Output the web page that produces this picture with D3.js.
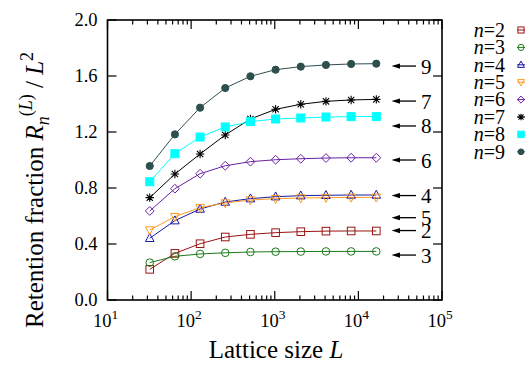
<!DOCTYPE html>
<html>
<head>
<meta charset="utf-8">
<script src="https://cdn.jsdelivr.net/npm/d3@7"></script>
<style>
  body { margin: 0; background: #fff; }
</style>
</head>
<body>
<svg id="chart" width="532" height="365" font-family="'Liberation Serif', 'Times New Roman', serif"></svg>
<script>
// lattice sizes L
const sizes = [32, 64, 128, 256, 512, 1024, 2048, 4096, 8192, 16384];

const r2 = [0.219, 0.333, 0.402, 0.450, 0.469, 0.481, 0.488, 0.492, 0.493, 0.493];
const r3 = [0.267, 0.312, 0.329, 0.337, 0.343, 0.345, 0.346, 0.347, 0.347, 0.347];
const r4 = [0.441, 0.567, 0.650, 0.700, 0.724, 0.738, 0.745, 0.748, 0.750, 0.750];
const r5 = [0.500, 0.595, 0.660, 0.693, 0.714, 0.724, 0.729, 0.731, 0.733, 0.733];
const r6 = [0.636, 0.795, 0.902, 0.959, 0.988, 1.002, 1.009, 1.014, 1.016, 1.016];
const r7 = [0.731, 0.900, 1.043, 1.179, 1.293, 1.362, 1.398, 1.419, 1.429, 1.433];
const r8 = [0.845, 1.045, 1.164, 1.236, 1.274, 1.293, 1.300, 1.307, 1.310, 1.310];
const r9 = [0.957, 1.183, 1.374, 1.514, 1.598, 1.645, 1.667, 1.679, 1.686, 1.688];

const seriesNames = ['2', '3', '4', '5', '6', '7', '8', '9'];
const seriesValues = [r2, r3, r4, r5, r6, r7, r8, r9];
const colors = ['#9a1414', '#1b7a1b', '#1a1aa6', '#ff9a1f', '#6a22a3', '#000000', '#00ffff', '#2f4f4f'];
const markers = ['square', 'circle', 'triangle', 'itriangle', 'diamond', 'star', 'fsquare', 'fcircle'];

// arrow annotations on the right: label and the level it points at
const arrowLabels = ['9', '7', '8', '6', '4', '5', '2', '3'];
const arrowLevels = [1.671, 1.421, 1.243, 1.000, 0.746, 0.588, 0.496, 0.321];

const yTicks = [0, 0.4, 0.8, 1.2, 1.6, 2.0];
const xTicks = [1e1, 1e2, 1e3, 1e4, 1e5];

const pLeft = 107.5, pRight = 442, pTop = 20, pBottom = 300;
const svg = d3.select('#chart');

const x = d3.scaleLog().domain([10, 1e5]).range([pLeft, pRight]);
const y = d3.scaleLinear().domain([0, 2]).range([pBottom, pTop]);

// marker drawing
function drawMarker(g, type, cx, cy, color, scale) {
    const s = scale || 1;
    if (type === 'square' || type === 'fsquare') {
        const h = (type === 'square' ? 3.8 : 4) * s;
        g.append('rect').attr('x', cx - h).attr('y', cy - h).attr('width', 2 * h).attr('height', 2 * h)
            .attr('fill', type === 'fsquare' ? color : 'none').attr('stroke', color).attr('stroke-width', 1);
    } else if (type === 'circle' || type === 'fcircle') {
        g.append('circle').attr('cx', cx).attr('cy', cy).attr('r', (type === 'circle' ? 3.8 : 3.6) * s)
            .attr('fill', type === 'fcircle' ? color : 'none').attr('stroke', color).attr('stroke-width', 1);
    } else if (type === 'triangle' || type === 'itriangle') {
        const h = 4.3 * s, dir = type === 'triangle' ? 1 : -1;
        const pts = [[cx, cy - dir * h * 1.1], [cx - h, cy + dir * h * 0.75], [cx + h, cy + dir * h * 0.75]];
        g.append('path').attr('d', d3.line()(pts) + 'Z')
            .attr('fill', 'none').attr('stroke', color).attr('stroke-width', 1);
    } else if (type === 'diamond') {
        const h = 4.4 * s;
        const pts = [[cx, cy - h], [cx + h, cy], [cx, cy + h], [cx - h, cy]];
        g.append('path').attr('d', d3.line()(pts) + 'Z')
            .attr('fill', 'none').attr('stroke', color).attr('stroke-width', 1);
    } else if (type === 'star') {
        const h = 4.2 * s, d = h * 0.75;
        const p = `M${cx - h},${cy}L${cx + h},${cy}M${cx},${cy - h}L${cx},${cy + h}` +
                  `M${cx - d},${cy - d}L${cx + d},${cy + d}M${cx - d},${cy + d}L${cx + d},${cy - d}`;
        g.append('path').attr('d', p).attr('fill', 'none').attr('stroke', color).attr('stroke-width', 1.1);
    }
}

// series
const plot = svg.append('g');
seriesValues.forEach((vals, i) => {
    const pts = sizes.map((L, j) => [x(L), y(vals[j])]);
    plot.append('path').attr('d', d3.line()(pts))
        .attr('fill', 'none').attr('stroke', colors[i]).attr('stroke-width', 1);
});
seriesValues.forEach((vals, i) => {
    sizes.forEach((L, j) => drawMarker(plot, markers[i], x(L), y(vals[j]), colors[i]));
});

// frame
svg.append('rect').attr('x', pLeft).attr('y', pTop).attr('width', pRight - pLeft).attr('height', pBottom - pTop)
    .attr('fill', 'none').attr('stroke', '#000').attr('stroke-width', 1.6);

// y ticks (both sides)
const axisG = svg.append('g').attr('stroke', '#000').attr('stroke-width', 1.2);
yTicks.forEach(v => {
    axisG.append('line').attr('x1', pLeft).attr('x2', pLeft + 9).attr('y1', y(v)).attr('y2', y(v));
    axisG.append('line').attr('x1', pRight).attr('x2', pRight - 9).attr('y1', y(v)).attr('y2', y(v));
});
svg.append('g').selectAll('text').data(yTicks).join('text')
    .attr('x', pLeft - 10).attr('y', d => y(d)).attr('dy', '0.34em')
    .attr('text-anchor', 'end').attr('font-size', 18.5)
    .text(d => d.toFixed(1));

// x ticks, major and minor, bottom and top
const minor = [];
for (let e = 1; e < 5; e++) for (let k = 2; k <= 9; k++) minor.push(k * Math.pow(10, e));
xTicks.forEach(v => {
    axisG.append('line').attr('x1', x(v)).attr('x2', x(v)).attr('y1', pBottom).attr('y2', pBottom - 9);
    axisG.append('line').attr('x1', x(v)).attr('x2', x(v)).attr('y1', pTop).attr('y2', pTop + 9);
});
minor.forEach(v => {
    axisG.append('line').attr('x1', x(v)).attr('x2', x(v)).attr('y1', pBottom).attr('y2', pBottom - 4.5);
    axisG.append('line').attr('x1', x(v)).attr('x2', x(v)).attr('y1', pTop).attr('y2', pTop + 4.5);
});
const xt = svg.append('g').selectAll('text').data(xTicks).join('text')
    .attr('x', d => x(d) - 2).attr('y', 327).attr('text-anchor', 'middle').attr('font-size', 18.5);
xt.append('tspan').text('10');
xt.append('tspan').attr('dy', -8).attr('font-size', 13.5).text(d => Math.round(Math.log10(d)));

// arrows with labels
const arr = svg.append('g');
arrowLevels.forEach((v, i) => {
    const yy = y(v);
    arr.append('line').attr('x1', 398).attr('x2', 416).attr('y1', yy).attr('y2', yy)
        .attr('stroke', '#000').attr('stroke-width', 1.3);
    arr.append('path').attr('d', d3.line()([[391.5, yy], [400, yy - 2.6], [400, yy + 2.6]]) + 'Z')
        .attr('fill', '#000');
    arr.append('text').attr('x', 421).attr('y', yy + 7.5).attr('font-size', 21).text(arrowLabels[i]);
});

// legend
const leg = svg.append('g');
seriesNames.forEach((n, i) => {
    const yy = 30 + i * 17.4;
    const t = leg.append('text').attr('x', 505).attr('y', yy).attr('dy', '0.34em')
        .attr('text-anchor', 'end').attr('font-size', 20);
    t.append('tspan').attr('font-style', 'italic').text('n');
    t.append('tspan').text('=' + n);
    leg.append('line').attr('x1', 517).attr('x2', 525).attr('y1', yy).attr('y2', yy)
        .attr('stroke', colors[i]).attr('stroke-width', 1);
    drawMarker(leg, markers[i], 521, yy, colors[i], 0.8);
});

// axis titles
const xl = svg.append('text').attr('x', 276).attr('y', 358).attr('text-anchor', 'middle').attr('font-size', 25);
xl.append('tspan').text('Lattice size ');
xl.append('tspan').attr('font-style', 'italic').text('L');

const yl = svg.append('text').attr('transform', 'translate(43,190) rotate(-90)')
    .attr('text-anchor', 'middle').attr('font-size', 25);
yl.append('tspan').text('Retention fraction ');
yl.append('tspan').attr('font-style', 'italic').text('R');
yl.append('tspan').attr('font-style', 'italic').attr('font-size', 18).attr('dy', 6).text('n');
yl.append('tspan').attr('font-size', 18).attr('dy', -17).text('(');
yl.append('tspan').attr('font-size', 18).attr('font-style', 'italic').text('L');
yl.append('tspan').attr('font-size', 18).text(')');
yl.append('tspan').attr('dy', 11).text(' / ');
yl.append('tspan').attr('font-style', 'italic').text('L');
yl.append('tspan').attr('font-size', 18).attr('dy', -10).text('2');
</script>
</body>
</html>
